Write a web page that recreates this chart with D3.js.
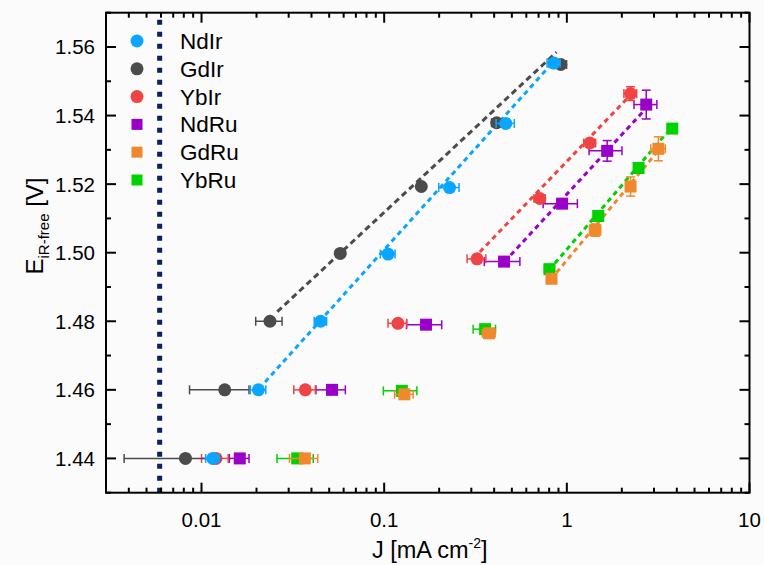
<!DOCTYPE html>
<html><head><meta charset="utf-8">
<script src="https://cdn.jsdelivr.net/npm/d3@7"></script>
<style>
html,body{margin:0;padding:0;background:#fbfbfb;}
svg{display:block;font-family:"Liberation Sans",Arial,sans-serif;}
</style></head>
<body><svg id="chart" width="764" height="565"></svg>
<script>
// ---------- data ----------
const seriesNames = ["NdIr","GdIr","YbIr","NdRu","GdRu","YbRu"];
const seriesColors = ["#0aa5ff","#4b4b4b","#f04444","#9a00c8","#f0892e","#00d200"];
const seriesShapes = ["circle","circle","circle","square","square","square"];

const NdIr_J    = [0.01153,0.0205,0.0449,0.105,0.228,0.463,0.849];
const NdIr_E    = [1.440,1.460,1.480,1.4996,1.5190,1.5377,1.5553];
const NdIr_Jerr = [0.001,0.002,0.0035,0.0097,0.029,0.053,0.07];
const NdIr_Eerr = [0,0,0,0,0,0,0];

const GdIr_J    = [0.00817,0.0134,0.0237,0.0575,0.1597,0.413,0.927];
const GdIr_E    = [1.440,1.460,1.480,1.4998,1.5193,1.5379,1.5549];
const GdIr_Jerr = [0.0044,0.0048,0.0039,0.003,0.006,0.026,0.07];
const GdIr_Eerr = [0,0,0,0,0,0,0];

const YbIr_J    = [0.0120,0.0370,0.119,0.3224,0.711,1.337,2.233];
const YbIr_E    = [1.440,1.460,1.4794,1.4982,1.5158,1.5320,1.5464];
const YbIr_Jerr = [0.002,0.005,0.014,0.038,0.05,0.10,0.18];
const YbIr_Eerr = [0,0,0,0,0.001,0.001,0.002];

const NdRu_J    = [0.0162,0.0518,0.1695,0.4533,0.942,1.663,2.721];
const NdRu_E    = [1.440,1.460,1.4790,1.4974,1.5143,1.5297,1.5432];
const NdRu_Jerr = [0.002,0.0095,0.037,0.10,0.20,0.34,0.39];
const NdRu_Eerr = [0,0,0,0,0.0006,0.003,0.0042];

const GdRu_J    = [0.0368,0.129,0.375,0.824,1.43,2.233,3.17];
const GdRu_E    = [1.440,1.4587,1.4765,1.4924,1.5066,1.5193,1.5303];
const GdRu_Jerr = [0.0065,0.015,0.03,0.04,0.10,0.12,0.29];
const GdRu_Eerr = [0,0,0,0.0005,0.0018,0.0028,0.0035];

const YbRu_J    = [0.0334,0.125,0.357,0.8036,1.485,2.47,3.776];
const YbRu_E    = [1.440,1.4597,1.4777,1.4952,1.5107,1.5247,1.5362];
const YbRu_Jerr = [0.0075,0.026,0.05,0.05,0.05,0.05,0.05];
const YbRu_Eerr = [0,0,0,0,0,0,0];

// dashed Tafel fit lines: [J start, J end], [E start, E end]
const fit_J = [[0.0223,0.849],[0.026,0.878],[0.334,2.16],[0.493,2.62],[0.878,3.17],[0.86,3.52]];
const fit_E = [[1.4623,1.5558],[1.4828,1.5585],[1.5002,1.5452],[1.4993,1.5412],[1.4942,1.5298],[1.4969,1.5349]];

const refLineJ = 0.0059; // vertical dotted reference line

const xDomain = [0.003, 10];
const yDomain = [1.43, 1.57];
const xMajorTicks = [0.01, 0.1, 1, 10];
const xTickLabels = ["0.01","0.1","1","10"];
const xMinorTicks = [0.003,0.004,0.005,0.006,0.007,0.008,0.009,
  0.02,0.03,0.04,0.05,0.06,0.07,0.08,0.09,
  0.2,0.3,0.4,0.5,0.6,0.7,0.8,0.9,
  2,3,4,5,6,7,8,9];
const yMajorTicks = [1.44,1.46,1.48,1.50,1.52,1.54,1.56];
const yTickLabels = ["1.44","1.46","1.48","1.50","1.52","1.54","1.56"];
const yMinorTicks = [1.43,1.45,1.47,1.49,1.51,1.53,1.55,1.57];

const allJ = [NdIr_J,GdIr_J,YbIr_J,NdRu_J,GdRu_J,YbRu_J];
const allE = [NdIr_E,GdIr_E,YbIr_E,NdRu_E,GdRu_E,YbRu_E];
const allJerr = [NdIr_Jerr,GdIr_Jerr,YbIr_Jerr,NdRu_Jerr,GdRu_Jerr,YbRu_Jerr];
const allEerr = [NdIr_Eerr,GdIr_Eerr,YbIr_Eerr,NdRu_Eerr,GdRu_Eerr,YbRu_Eerr];

// ---------- drawing ----------
const W = 764, H = 565;
const m = {left:106, right:14.5, top:12.7, bottom:72.3};
const svg = d3.select("#chart");
const x = d3.scaleLog().domain(xDomain).range([m.left, W - m.right]);
const y = d3.scaleLinear().domain(yDomain).range([H - m.bottom, m.top]);

svg.append("rect").attr("width",W).attr("height",H).attr("fill","#fbfbfb");

// vertical dotted line
svg.append("line")
  .attr("x1",x(refLineJ)).attr("x2",x(refLineJ))
  .attr("y1",y(yDomain[0])).attr("y2",y(yDomain[1]))
  .attr("stroke","#0b225e").attr("stroke-width",5)
  .attr("stroke-dasharray","5,7");

// fit lines
const order = [5,4,3,2,1,0];
const fitDash = ["5,4","6,4","5,4","5,4","5,4","5,4"];
order.forEach(i => {
  svg.append("line")
    .attr("x1",x(fit_J[i][0])).attr("y1",y(fit_E[i][0]))
    .attr("x2",x(fit_J[i][1])).attr("y2",y(fit_E[i][1]))
    .attr("stroke",seriesColors[i]).attr("stroke-width",3)
    .attr("stroke-dasharray",fitDash[i]);
});

// error bars and markers
const cap = 4.5;
order.forEach(i => {
  const g = svg.append("g");
  const c = seriesColors[i];
  const pts = allJ[i].map((j,k)=>({j, e:allE[i][k], dj:allJerr[i][k], de:allEerr[i][k]}));
  pts.forEach(p => {
    const cx = x(p.j), cy = y(p.e);
    if (p.dj > 0) {
      const xl = x(Math.max(p.j - p.dj, 1e-4)), xr = x(p.j + p.dj);
      g.append("line").attr("x1",xl).attr("x2",xr).attr("y1",cy).attr("y2",cy)
        .attr("stroke",c).attr("stroke-width",1.5);
      [xl,xr].forEach(xx => g.append("line").attr("x1",xx).attr("x2",xx)
        .attr("y1",cy-cap).attr("y2",cy+cap).attr("stroke",c).attr("stroke-width",1.5));
    }
    if (p.de > 0) {
      const yt = y(p.e + p.de), yb = y(p.e - p.de);
      g.append("line").attr("x1",cx).attr("x2",cx).attr("y1",yt).attr("y2",yb)
        .attr("stroke",c).attr("stroke-width",1.5);
      [yt,yb].forEach(yy => g.append("line").attr("x1",cx-cap).attr("x2",cx+cap)
        .attr("y1",yy).attr("y2",yy).attr("stroke",c).attr("stroke-width",1.5));
    }
  });
  pts.forEach(p => {
    const cx = x(p.j), cy = y(p.e);
    if (seriesShapes[i] === "circle") {
      g.append("circle").attr("cx",cx).attr("cy",cy).attr("r",6.5).attr("fill",c);
    } else {
      g.append("rect").attr("x",cx-6).attr("y",cy-6).attr("width",12).attr("height",12).attr("fill",c);
    }
  });
});

// axes frame
const x0 = m.left, x1 = W - m.right, y0 = H - m.bottom, y1 = m.top;
const axisG = svg.append("g").attr("stroke","#000").attr("stroke-width",2);
axisG.append("rect").attr("x",x0).attr("y",y1).attr("width",x1-x0).attr("height",y0-y1).attr("fill","none");

const majLen = 10, minLen = 5;
xMajorTicks.forEach(t => {
  axisG.append("line").attr("x1",x(t)).attr("x2",x(t)).attr("y1",y0).attr("y2",y0-majLen);
  axisG.append("line").attr("x1",x(t)).attr("x2",x(t)).attr("y1",y1).attr("y2",y1+majLen);
});
xMinorTicks.forEach(t => {
  axisG.append("line").attr("x1",x(t)).attr("x2",x(t)).attr("y1",y0).attr("y2",y0-minLen);
  axisG.append("line").attr("x1",x(t)).attr("x2",x(t)).attr("y1",y1).attr("y2",y1+minLen);
});
yMajorTicks.forEach(t => {
  axisG.append("line").attr("x1",x0).attr("x2",x0+majLen).attr("y1",y(t)).attr("y2",y(t));
  axisG.append("line").attr("x1",x1).attr("x2",x1-majLen).attr("y1",y(t)).attr("y2",y(t));
});
yMinorTicks.forEach(t => {
  axisG.append("line").attr("x1",x0).attr("x2",x0+minLen).attr("y1",y(t)).attr("y2",y(t));
  axisG.append("line").attr("x1",x1).attr("x2",x1-minLen).attr("y1",y(t)).attr("y2",y(t));
});

// tick labels
const fs = 20.5;
xMajorTicks.forEach((t,k) => {
  svg.append("text").attr("x",x(t)).attr("y",y0+34).attr("text-anchor","middle")
    .attr("font-size",fs).attr("fill","#000").text(xTickLabels[k]);
});
yMajorTicks.forEach((t,k) => {
  svg.append("text").attr("x",x0-11).attr("y",y(t)+7.5).attr("text-anchor","end")
    .attr("font-size",fs).attr("fill","#000").text(yTickLabels[k]);
});

// axis titles
const xt = svg.append("text").attr("x",(x0+x1)/2+2).attr("y",558).attr("text-anchor","middle")
  .attr("font-size",23.5).attr("fill","#000");
xt.append("tspan").text("J [mA cm");
xt.append("tspan").attr("font-size",14).attr("dy",-10).text("-2");
xt.append("tspan").attr("dy",10).text("]");

const yt = svg.append("text").attr("transform","translate(43,226) rotate(-90)")
  .attr("text-anchor","middle").attr("font-size",24).attr("fill","#000");
yt.append("tspan").text("E");
yt.append("tspan").attr("font-size",15).attr("dy",6).text("iR-free");
yt.append("tspan").attr("dy",-6).text(" [V]");

// legend
const legY0 = 41, legStep = 27.8, legMX = 137, legTX = 180;
seriesNames.forEach((name,i) => {
  const ly = legY0 + i*legStep;
  if (seriesShapes[i] === "circle") {
    svg.append("circle").attr("cx",legMX).attr("cy",ly).attr("r",6.5).attr("fill",seriesColors[i]);
  } else {
    svg.append("rect").attr("x",legMX-5.5).attr("y",ly-5.5).attr("width",11).attr("height",11).attr("fill",seriesColors[i]);
  }
  svg.append("text").attr("x",legTX).attr("y",ly+8).attr("font-size",22.5).attr("fill","#000").text(name);
});
</script></body></html>
